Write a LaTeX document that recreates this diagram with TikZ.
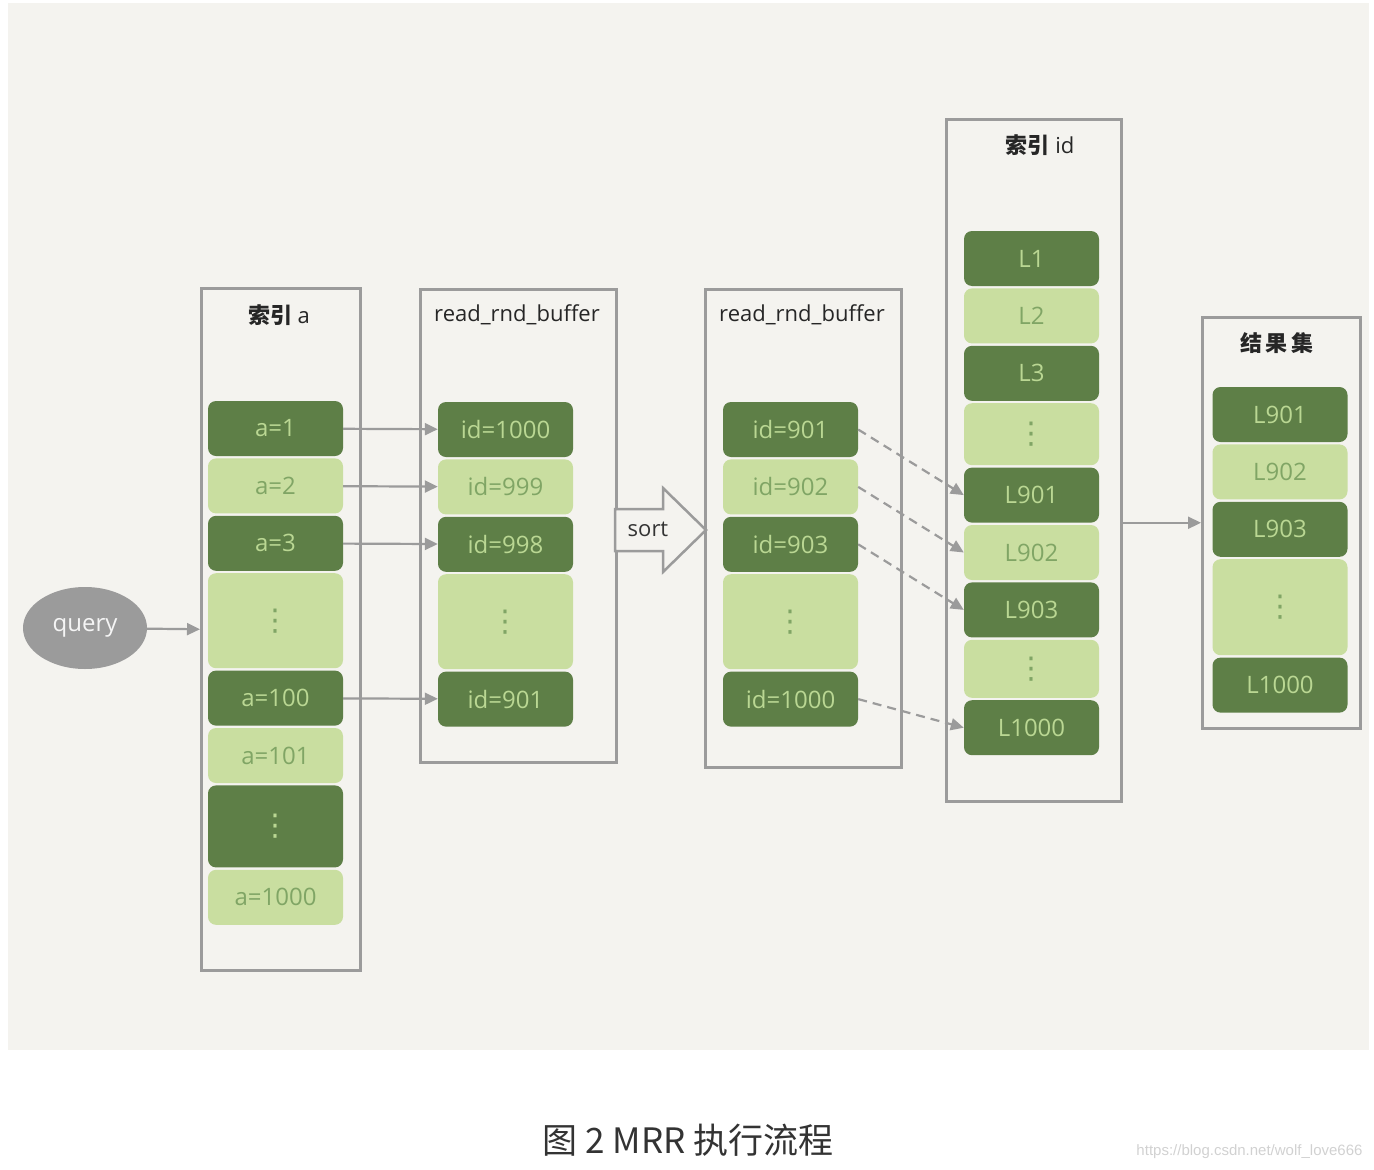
\documentclass[tikz,border=0pt]{standalone}
\usepackage{fontspec}
\setmainfont{Open Sans}
\newfontfamily\cjk{Noto Sans CJK SC}
\newfontfamily\wmfont{Liberation Sans}
\newfontfamily\symf{DejaVu Sans}
\usetikzlibrary{shapes.geometric,arrows.meta,positioning}
\definecolor{bgc}{HTML}{F4F3EF}
\definecolor{dkg}{HTML}{5E7F47}
\definecolor{ltg}{HTML}{C9DEA0}
\definecolor{dkt}{HTML}{BAD793}
\definecolor{ltt}{HTML}{80A565}
\definecolor{lnc}{HTML}{9B9B9B}
\newcommand{\vdts}{{\symf\fontsize{30}{34}\selectfont ⋮}}
\tikzset{
  dk/.style  = {rectangle, rounded corners=8pt, fill=dkg, text=dkt, minimum width=135pt,
                minimum height=55pt, inner sep=0pt, font=\fontsize{24}{28}\selectfont},
  lt/.style  = {dk, fill=ltg, text=ltt},
  frm/.style = {rectangle, draw=lnc, line width=2.5pt, anchor=north west, inner sep=0pt},
  ttl/.style = {font=\fontsize{22}{26}\selectfont, text=black!85},
  fl/.style  = {-{Triangle[length=13pt,width=12pt]}, line width=2.2pt, lnc},
  fld/.style = {fl, dash pattern=on 9pt off 6pt},
}
\begin{document}
\begin{tikzpicture}[x=1pt, y=-1pt]

  \useasboundingbox (0,0) rectangle (1374,1170);
  \fill[bgc] (8,3) rectangle (1369,1050);

  % frames
  \node[frm, minimum width=159pt, minimum height=682pt] (ia)  at (200,287) {};
  \node[frm, minimum width=196pt, minimum height=473pt] (rb1) at (419,288) {};
  \node[frm, minimum width=196pt, minimum height=478pt] (rb2) at (704,288) {};
  \node[frm, minimum width=175pt, minimum height=682pt] (iid) at (945,118) {};
  \node[frm, minimum width=158pt, minimum height=411pt] (res) at (1201,316) {};

  \node[ttl] (tia)  at (279,315) {{\cjk\bfseries 索引} a};
  \node[ttl] (trb1) at (517,315) {read\_rnd\_buffer};
  \node[ttl] (trb2) at (802,315) {read\_rnd\_buffer};
  \node[ttl] (tiid) at (1040,145) {{\cjk\bfseries 索引} id};
  \node[ttl] (tres) at (1277,343) {\cjk\bfseries 结\,果\,集};

  % index a
  \node[dk] (a1) at (275.5,428.5) {a=1};
  \node[lt, below=2pt of a1] (a2) {a=2};
  \node[dk, below=2pt of a2] (a3) {a=3};
  \node[lt, below=2pt of a3, minimum height=95pt] (ad1) {\vdts};
  \node[dk, below=2pt of ad1] (a100) {a=100};
  \node[lt, below=2pt of a100] (a101) {a=101};
  \node[dk, below=2pt of a101, minimum height=82pt] (ad2) {\vdts};
  \node[lt, below=2pt of ad2] (a1000) {a=1000};

  % read_rnd_buffer, before sort
  \node[dk] (b1) at (505.5,429.5) {id=1000};
  \node[lt, below=2pt of b1] (b2) {id=999};
  \node[dk, below=2pt of b2] (b3) {id=998};
  \node[lt, below=2pt of b3, minimum height=95pt] (bd) {\vdts};
  \node[dk, below=2pt of bd] (b5) {id=901};

  % read_rnd_buffer, after sort
  \node[dk] (c1) at (790.5,429.5) {id=901};
  \node[lt, below=2pt of c1] (c2) {id=902};
  \node[dk, below=2pt of c2] (c3) {id=903};
  \node[lt, below=2pt of c3, minimum height=95pt] (cd) {\vdts};
  \node[dk, below=2pt of cd] (c5) {id=1000};

  % index id
  \node[dk] (L1) at (1031.5,258.5) {L1};
  \node[lt, below=2pt of L1] (L2) {L2};
  \node[dk, below=2pt of L2] (L3) {L3};
  \node[lt, below=2pt of L3, minimum height=62pt] (Ld1) {\vdts};
  \node[dk, below=2pt of Ld1] (L901) {L901};
  \node[lt, below=2pt of L901] (L902) {L902};
  \node[dk, below=2pt of L902] (L903) {L903};
  \node[lt, below=2pt of L903, minimum height=58pt] (Ld2) {\vdts};
  \node[dk, below=2pt of Ld2] (L1000) {L1000};

  % result set
  \node[dk] (r901) at (1280,414.5) {L901};
  \node[lt, below=2pt of r901] (r902) {L902};
  \node[dk, below=2pt of r902] (r903) {L903};
  \node[lt, below=2pt of r903, minimum height=96pt] (rd) {\vdts};
  \node[dk, below=2pt of rd] (r1000) {L1000};

  \node[ellipse, fill=lnc, minimum width=124pt, minimum height=82pt, inner sep=0pt,
        text=white!90!lnc, font=\fontsize{24}{28}\selectfont] (query) at (85,628) {query};

  % sort arrow
  \draw[lnc, line width=2.5pt, fill=bgc] (615,509) -- (663,509) -- (663,488) -- (706,530)
    -- (663,572) -- (663,551) -- (615,551) -- cycle;
  \node[font=\fontsize{22}{26}\selectfont, text=black!80] (sort) at (648,529) {sort};

  \draw[fl] (query) -- (ia.west);
  \draw[fl] (a1) -- (b1);
  \draw[fl] (a2) -- (b2);
  \draw[fl] (a3) -- (b3);
  \draw[fl] (a100) -- (b5);
  \draw[fld] (c1.east) -- (L901.west);
  \draw[fld] (c2.east) -- (L902.west);
  \draw[fld] (c3.east) -- (L903.west);
  \draw[fld] (c5.east) -- (L1000.west);
  \draw[fl] (iid.east |- res.west) -- (res.west);

  \node[font=\cjk\fontsize{35}{40}\selectfont, text=black!80] (cap) at (688,1140) {图 2 MRR 执行流程};
  \node[font=\wmfont\fontsize{15}{18}\selectfont, text=black!18, anchor=east] (wm) at (1366,1152)
    {https://blog.csdn.net/wolf\_love666};

\end{tikzpicture}
\end{document}
